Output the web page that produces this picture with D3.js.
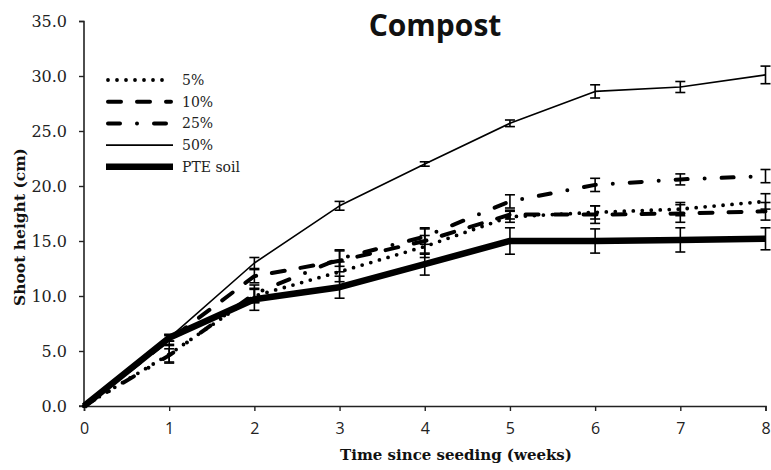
<!DOCTYPE html>
<html>
<head>
<meta charset="utf-8">
<script src="https://cdn.jsdelivr.net/npm/d3@7"></script>
<style>
  html, body { margin: 0; padding: 0; background: #fff; }
  svg { display: block; }
</style>
</head>
<body>
<svg id="chart" width="771" height="470"></svg>
<script>
// ---- data ----
const weeks = [0, 1, 2, 3, 4, 5, 6, 7, 8];
const seriesNames = ["5%", "10%", "25%", "50%", "PTE soil"];
const values5  = [0, 4.7, 10.0, 12.2, 14.5, 17.2, 17.6, 17.9, 18.6];
const values10 = [0, 6.0, 11.8, 13.2, 15.0, 17.4, 17.4, 17.5, 17.7];
const values25 = [0, 4.6, 10.2, 13.4, 15.4, 18.6, 20.1, 20.6, 20.9];
const values50 = [0, 6.2, 13.0, 18.2, 22.0, 25.7, 28.6, 29.0, 30.1];
const valuesPTE = [0, 6.2, 9.7, 10.8, 12.9, 15.0, 15.0, 15.1, 15.2];
const err5  = [0, 0.8, 0.6, 0.9, 1.0, 0.5, 0.6, 0.6, 0.7];
const err10 = [0, 0.4, 0.6, 1.0, 1.2, 0.4, 0.8, 0.8, 0.8];
const err25 = [0, 0.6, 0.8, 0.7, 0.7, 0.6, 0.6, 0.5, 0.6];
const err50 = [0, 0.3, 0.5, 0.4, 0.2, 0.3, 0.6, 0.5, 0.8];
const errPTE = [0, 0.3, 1.0, 1.0, 1.0, 1.2, 1.1, 1.1, 1.0];
const yTicks = [0, 5, 10, 15, 20, 25, 30, 35];
const xTicks = [0, 1, 2, 3, 4, 5, 6, 7, 8];
const titleText = "Compost";
const xTitle = "Time since seeding (weeks)";
const yTitle = "Shoot height (cm)";

// ---- styles per series ----
const styles = [
  { width: 3.8, dash: "0 9", cap: "round" },
  { width: 4, dash: "13 16", cap: "round" },
  { width: 4, dash: "12 17 0 17", cap: "round" },
  { width: 1.6, dash: null, cap: "butt" },
  { width: 6.5, dash: null, cap: "butt" }
];
const allValues = [values5, values10, values25, values50, valuesPTE];
const allErr = [err5, err10, err25, err50, errPTE];

const svg = d3.select("#chart");
const x = d3.scaleLinear().domain([0, 8]).range([84, 765.5]);
const y = d3.scaleLinear().domain([0, 35]).range([406, 21]);

// axes
const yAxis = d3.axisLeft(y).tickValues(yTicks).tickSize(5).tickPadding(12)
  .tickFormat(d3.format(".1f"));
const gy = svg.append("g").attr("transform", "translate(84,0)").call(yAxis);
gy.selectAll("text").attr("font-family", "'DejaVu Serif', serif").attr("font-size", 16).attr("fill", "#222");

const xAxis = d3.axisBottom(x).tickValues(xTicks).tickSize(5).tickPadding(12)
  .tickFormat(d3.format("d"));
const gx = svg.append("g").attr("transform", "translate(0,406)").call(xAxis);
gx.selectAll("text").attr("font-family", "'Open Sans', sans-serif").attr("font-size", 16).attr("fill", "#222");

[gx, gy].forEach(g => {
  g.select(".domain").attr("stroke", "#222").attr("stroke-width", 1.6);
  g.selectAll(".tick line").attr("stroke", "#222").attr("stroke-width", 1.4);
});
gy.select(".domain").attr("d", "M-5,21.5H0V406H-5");

// lines
const line = d3.line().x((d, i) => x(weeks[i])).y(d => y(d));
const plot = svg.append("g");
allValues.forEach((vals, si) => {
  const st = styles[si];
  plot.append("path")
    .datum(vals)
    .attr("d", line)
    .attr("fill", "none")
    .attr("stroke", "#000")
    .attr("stroke-width", st.width)
    .attr("stroke-linecap", st.cap)
    .attr("stroke-linejoin", "round")
    .attr("stroke-dasharray", st.dash);
  // error bars
  const eb = plot.append("g").attr("stroke", "#000").attr("stroke-width", 1.6);
  vals.forEach((v, i) => {
    const e = allErr[si][i];
    if (e <= 0) return;
    const cx = x(weeks[i]);
    eb.append("line").attr("x1", cx).attr("x2", cx).attr("y1", y(v - e)).attr("y2", y(v + e));
    eb.append("line").attr("x1", cx - 5).attr("x2", cx + 5).attr("y1", y(v - e)).attr("y2", y(v - e));
    eb.append("line").attr("x1", cx - 5).attr("x2", cx + 5).attr("y1", y(v + e)).attr("y2", y(v + e));
  });
});

// legend
const legend = svg.append("g");
seriesNames.forEach((name, i) => {
  const ly = 80 + i * 21.7;
  const st = styles[i];
  legend.append("line")
    .attr("x1", st.cap === "round" ? 108 : 106).attr("x2", st.cap === "round" ? 171 : 173)
    .attr("y1", ly).attr("y2", ly)
    .attr("stroke", "#000").attr("stroke-width", st.width)
    .attr("stroke-linecap", st.cap).attr("stroke-dasharray", st.dash);
  legend.append("text")
    .attr("x", 182).attr("y", ly + 5)
    .attr("font-family", "'DejaVu Serif', serif").attr("font-size", 14)
    .attr("fill", "#222")
    .text(name);
});

// titles
svg.append("text").attr("x", 435).attr("y", 36).attr("text-anchor", "middle")
  .attr("font-family", "'Open Sans', sans-serif").attr("font-weight", "bold").attr("font-size", 30)
  .attr("fill", "#111").text(titleText);
svg.append("text").attr("x", 456).attr("y", 460).attr("text-anchor", "middle")
  .attr("font-family", "'DejaVu Serif', serif").attr("font-weight", "bold").attr("font-size", 15)
  .attr("fill", "#111").text(xTitle);
svg.append("text").attr("transform", "translate(25,227) rotate(-90)").attr("text-anchor", "middle")
  .attr("font-family", "'DejaVu Serif', serif").attr("font-weight", "bold").attr("font-size", 15.5)
  .attr("fill", "#111").text(yTitle);
</script>
</body>
</html>
